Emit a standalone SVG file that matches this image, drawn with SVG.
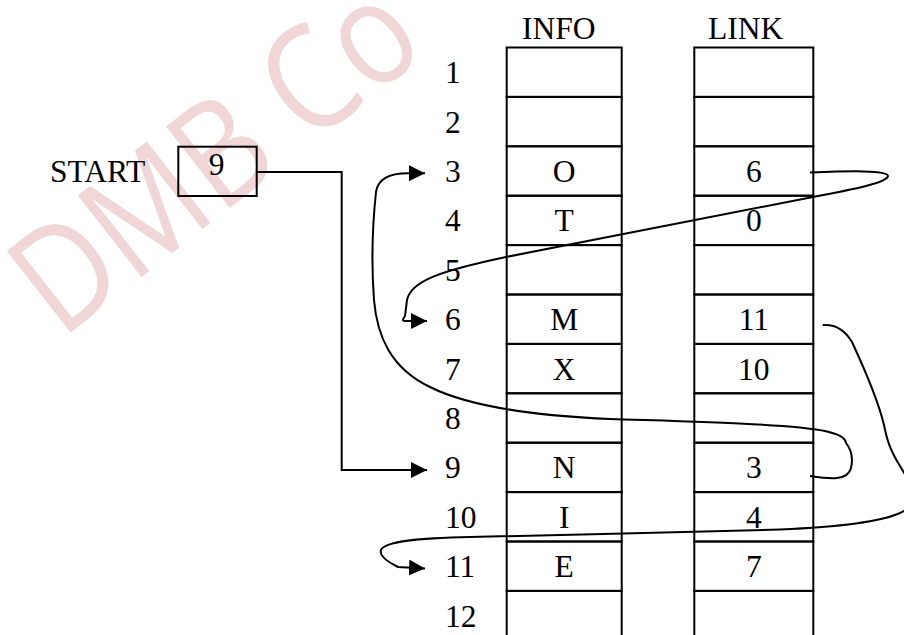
<svg xmlns="http://www.w3.org/2000/svg" width="904" height="635" viewBox="0 0 904 635">
<style>
.t{font-family:"Liberation Serif","Times New Roman",serif;font-size:31.5px;fill:#000}
.m{text-anchor:middle}
.cell{fill:none;stroke:#000;stroke-width:2}
.con{fill:none;stroke:#000;stroke-width:2}
.wm{font-family:"Open Sans","Noto Sans",sans-serif;font-size:145px;fill:#f0d6d6}
</style>
<defs>
<marker id="ah" markerUnits="userSpaceOnUse" markerWidth="18" markerHeight="18" refX="16" refY="8" orient="auto">
<path d="M0,0 L16,8 L0,16 z" fill="#000"/>
</marker>
</defs>
<rect width="904" height="635" fill="#fff"/>
<text class="wm" transform="translate(61,340) rotate(-38)" textLength="468" lengthAdjust="spacingAndGlyphs">DMB Co</text>

<g id="headers">
<text class="t" x="522" y="39.3">INFO</text>
<text class="t" x="708" y="39.3">LINK</text>
</g>

<g id="start">
<text class="t" x="50" y="181.7">START</text>
<rect class="cell" x="178.3" y="146.7" width="78.4" height="49.3"/>
<text class="t m" x="216.7" y="175">9</text>
</g>

<g id="row1"><rect class="cell" x="506.7" y="47.5" width="115" height="49.4"/><rect class="cell" x="694.3" y="47.5" width="119" height="49.4"/><text class="t" x="445" y="83.2">1</text></g>
<g id="row2"><rect class="cell" x="506.7" y="96.9" width="115" height="49.4"/><rect class="cell" x="694.3" y="96.9" width="119" height="49.4"/><text class="t" x="445" y="132.6">2</text></g>
<g id="row3"><rect class="cell" x="506.7" y="146.3" width="115" height="49.4"/><rect class="cell" x="694.3" y="146.3" width="119" height="49.4"/><text class="t" x="445" y="182.2">3</text><text class="t m" x="564.2" y="182.2">O</text><text class="t m" x="753.8" y="182.2">6</text></g>
<g id="row4"><rect class="cell" x="506.7" y="195.7" width="115" height="49.4"/><rect class="cell" x="694.3" y="195.7" width="119" height="49.4"/><text class="t" x="445" y="231">4</text><text class="t m" x="564.2" y="231">T</text><text class="t m" x="753.8" y="231">0</text></g>
<g id="row5"><rect class="cell" x="506.7" y="245.1" width="115" height="49.4"/><rect class="cell" x="694.3" y="245.1" width="119" height="49.4"/><text class="t" x="445" y="280.8">5</text></g>
<g id="row6"><rect class="cell" x="506.7" y="294.5" width="115" height="49.4"/><rect class="cell" x="694.3" y="294.5" width="119" height="49.4"/><text class="t" x="445" y="330.2">6</text><text class="t m" x="564.2" y="330.2">M</text><text class="t m" x="753.8" y="330.2">11</text></g>
<g id="row7"><rect class="cell" x="506.7" y="343.9" width="115" height="49.4"/><rect class="cell" x="694.3" y="343.9" width="119" height="49.4"/><text class="t" x="445" y="379.6">7</text><text class="t m" x="564.2" y="379.6">X</text><text class="t m" x="753.8" y="379.6">10</text></g>
<g id="row8"><rect class="cell" x="506.7" y="393.3" width="115" height="49.4"/><rect class="cell" x="694.3" y="393.3" width="119" height="49.4"/><text class="t" x="445" y="429">8</text></g>
<g id="row9"><rect class="cell" x="506.7" y="442.7" width="115" height="49.4"/><rect class="cell" x="694.3" y="442.7" width="119" height="49.4"/><text class="t" x="445" y="478.4">9</text><text class="t m" x="564.2" y="478.4">N</text><text class="t m" x="753.8" y="478.4">3</text></g>
<g id="row10"><rect class="cell" x="506.7" y="492.1" width="115" height="49.4"/><rect class="cell" x="694.3" y="492.1" width="119" height="49.4"/><text class="t" x="445" y="527.8">10</text><text class="t m" x="564.2" y="527.8">I</text><text class="t m" x="753.8" y="527.8">4</text></g>
<g id="row11"><rect class="cell" x="506.7" y="541.5" width="115" height="49.4"/><rect class="cell" x="694.3" y="541.5" width="119" height="49.4"/><text class="t" x="445" y="577.2">11</text><text class="t m" x="564.2" y="577.2">E</text><text class="t m" x="753.8" y="577.2">7</text></g>
<g id="row12"><rect class="cell" x="506.7" y="590.9" width="115" height="49.4"/><rect class="cell" x="694.3" y="590.9" width="119" height="49.4"/><text class="t" x="445" y="626.6">12</text></g>

<g id="connectors">
<path class="con" marker-end="url(#ah)" d="M256 172 H341.7 V470 H427"/>
<path class="con" marker-end="url(#ah)" d="M810 172.5 C850 171 888 170 888 176 C887 183 850 190 813 197 L506 257 C440 271 411 281 407 300 L405 316 Q401 321 405 321 L427 321"/>
<path class="con" marker-end="url(#ah)" d="M810 476 C830 479 848 481 851 468 C854 455 850 448 846 443 C845 437 838 434 825 431 C790 424 700 422 610 419 C540 416 470 407 430 387 C390 368 377 335 374 300 C371 260 373 220 376 192 C378 178 390 173.3 408 173.3 L425 173.3"/>
<path class="con" marker-end="url(#ah)" d="M822.7 325 C835 324 845 330 852 342 C865 370 878 400 884 425 C887 440 890 450 900 466 C915 490 918 505 900 513 C880 522 840 527 780 529.5 C700 532 560 535 470 537 C420 538 385 541 381 550 C379 556 388 562 398 567 L425 568.5"/>
</g>
</svg>
